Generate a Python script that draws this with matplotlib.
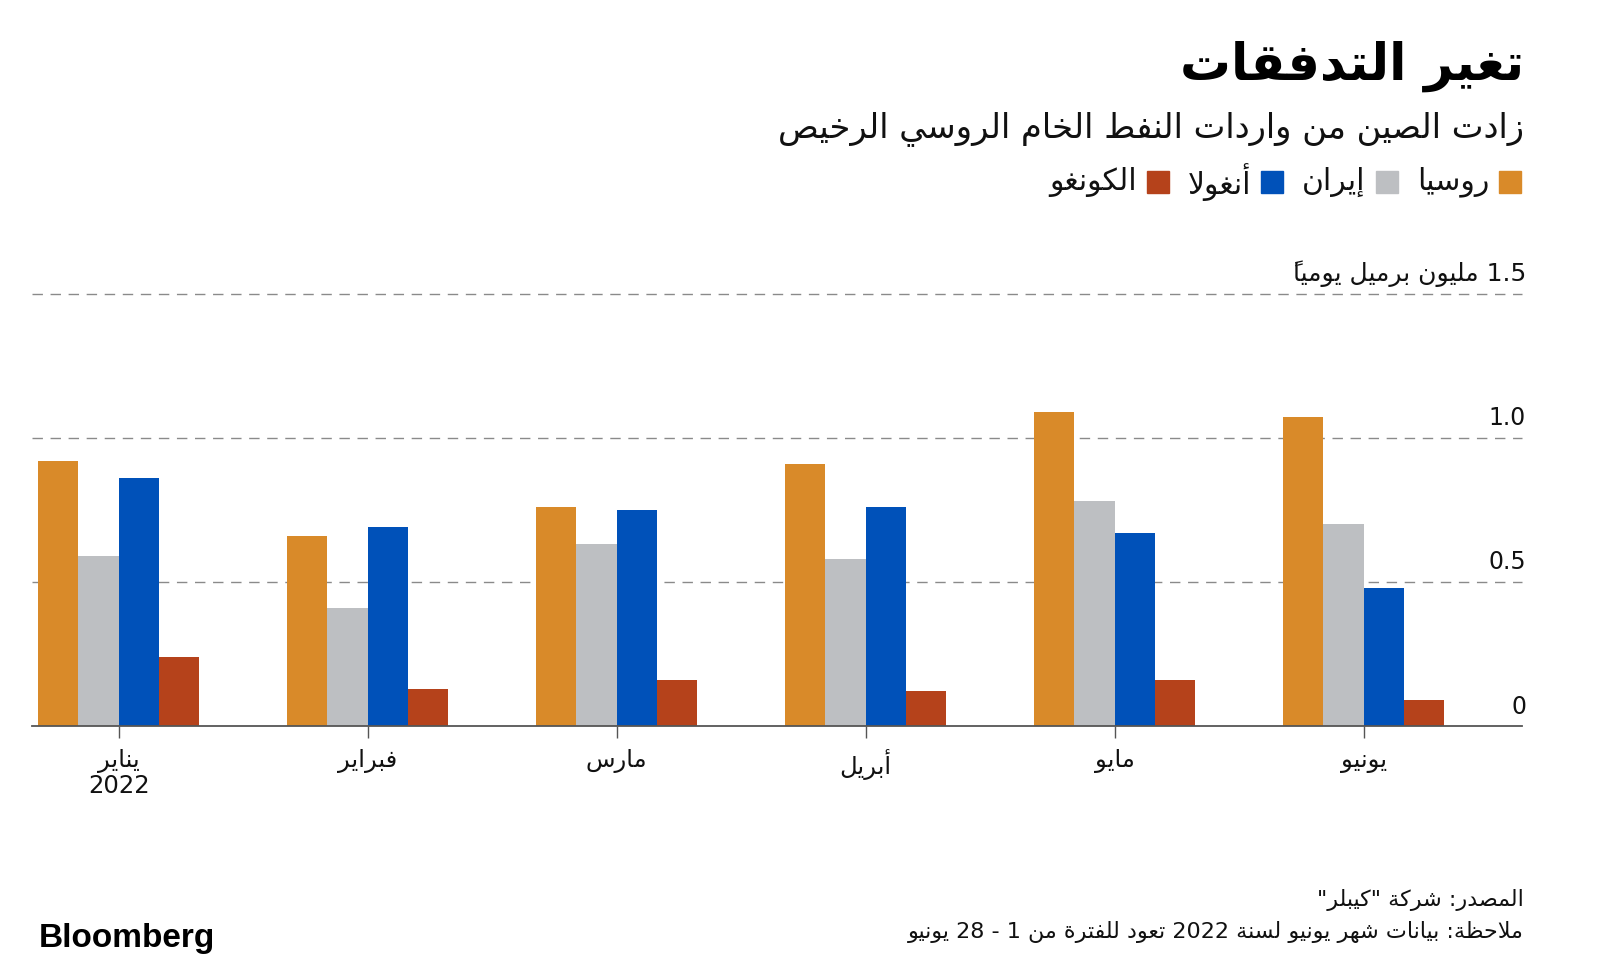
import matplotlib
matplotlib.use("Agg")
import matplotlib.pyplot as plt
from matplotlib.patches import Rectangle
import numpy as np

# China crude imports, million barrels per day (Jan-Jun 2022)
months = ["يناير\n2022", "فبراير", "مارس", "أبريل", "مايو", "يونيو"]
series_names = ["روسيا", "إيران", "أنغولا", "الكونغو"]
russia = [0.92, 0.66, 0.76, 0.91, 1.09, 1.07]
iran = [0.59, 0.41, 0.63, 0.58, 0.78, 0.70]
angola = [0.86, 0.69, 0.75, 0.76, 0.67, 0.48]
congo = [0.24, 0.13, 0.16, 0.12, 0.16, 0.09]
yticks = [0, 0.5, 1.0, 1.5]

title = "تغير التدفقات"
subtitle = "زادت الصين من واردات النفط الخام الروسي الرخيص"
unit = "1.5 مليون برميل يومياً"
source = 'المصدر: شركة "كيبلر"'
note = "ملاحظة: بيانات شهر يونيو لسنة 2022 تعود للفترة من 1 - 28 يونيو"

colors = ["#d98a29", "#bdbfc2", "#0051b9", "#b5421b"]

# --- minimal arabic shaping (matplotlib has no bidi/shaping) ---
FORMS = {
  'ء': (0xFE80, 1), 'آ': (0xFE81, 2), 'أ': (0xFE83, 2), 'ؤ': (0xFE85, 2),
  'إ': (0xFE87, 2), 'ئ': (0xFE89, 4), 'ا': (0xFE8D, 2), 'ب': (0xFE8F, 4),
  'ة': (0xFE93, 2), 'ت': (0xFE95, 4), 'ث': (0xFE99, 4), 'ج': (0xFE9D, 4),
  'ح': (0xFEA1, 4), 'خ': (0xFEA5, 4), 'د': (0xFEA9, 2), 'ذ': (0xFEAB, 2),
  'ر': (0xFEAD, 2), 'ز': (0xFEAF, 2), 'س': (0xFEB1, 4), 'ش': (0xFEB5, 4),
  'ص': (0xFEB9, 4), 'ض': (0xFEBD, 4), 'ط': (0xFEC1, 4), 'ظ': (0xFEC5, 4),
  'ع': (0xFEC9, 4), 'غ': (0xFECD, 4), 'ف': (0xFED1, 4), 'ق': (0xFED5, 4),
  'ك': (0xFED9, 4), 'ل': (0xFEDD, 4), 'م': (0xFEE1, 4), 'ن': (0xFEE5, 4),
  'ه': (0xFEE9, 4), 'و': (0xFEED, 2), 'ى': (0xFEEF, 2), 'ي': (0xFEF1, 4),
}
LAM_ALEF = {'آ': 0xFEF5, 'أ': 0xFEF7, 'إ': 0xFEF9, 'ا': 0xFEFB}
HARAKAT = set(chr(c) for c in range(0x064B, 0x0653))


def shape_word(word):
  toks = []
  i = 0
  while i < len(word):
    ch = word[i]
    if ch in HARAKAT and toks:
      toks[-1][2] += ch
    elif ch == 'ل' and i + 1 < len(word) and word[i + 1] in LAM_ALEF:
      toks.append([LAM_ALEF[word[i + 1]], 2, ''])
      i += 1
    elif ch in FORMS:
      base, n = FORMS[ch]
      toks.append([base, n, ''])
    else:
      toks.append([ch, 0, ''])
    i += 1
  out = []
  for k, (base, n, marks) in enumerate(toks):
    if n == 0:
      out.append(marks + base)
      continue
    prev_ok = k > 0 and toks[k - 1][1] == 4
    next_ok = n == 4 and k + 1 < len(toks) and toks[k + 1][1] >= 2
    if n == 1:
      form = 0
    elif prev_ok and next_ok:
      form = 3
    elif prev_ok:
      form = 1
    elif next_ok:
      form = 2
    else:
      form = 0
    # mark goes first so it lands on its own letter once reversed
    out.append(marks + chr(base + form))
  return ''.join(reversed(out))


def ar(text):
  lines = []
  for line in text.split("\n"):
    words = []
    for w in line.split(" "):
      if any('\u0600' <= c <= '\u06FF' for c in w):
        words.append(shape_word(w))
      else:
        words.append(w)
    lines.append(" ".join(reversed(words)))
  return "\n".join(lines)


W, H = 1600, 968
plt.rcParams['font.family'] = ['DejaVu Sans']
fig = plt.figure(figsize=(W / 100, H / 100), dpi=100)
fig.patch.set_facecolor("white")


def fx(x):
  return x / W


def fy(y):
  return 1 - y / H


# axes: baseline at y=726px, 1.5 line at y=293.5px
ax = fig.add_axes([fx(31.7), fy(726), fx(1522 - 31.7), (726 - 293.5) / H])
ax.set_xlim(-0.349, 5.636)
ax.set_ylim(0, 1.5)

x = np.arange(len(months))
bw = 0.162
for i, vals in enumerate([russia, iran, angola, congo]):
  ax.bar(x + (i - 1.5) * bw, vals, width=bw, color=colors[i], zorder=2)

for v in yticks[1:]:
  ax.axhline(v, color="#8a8a8a", lw=1, dashes=(7.5, 5.5), zorder=1, clip_on=False)

for s in ["top", "left", "right"]:
  ax.spines[s].set_visible(False)
ax.spines["bottom"].set_color("#555555")
ax.spines["bottom"].set_linewidth(1.3)
ax.spines["bottom"].set_zorder(3)

ax.set_yticks([])
ax.set_xticks(x)
ax.set_xticklabels([ar(m) for m in months], fontsize=17.5, color="#111111", linespacing=1.05)
ax.tick_params(axis="x", length=8.5, width=1, color="#555555", pad=8)

for v in yticks:
  if v == 0:
    lab = "0"
  elif v == 1.5:
    lab = ar(unit)
  else:
    lab = f"{v:.1f}"
  ax.annotate(lab, xy=(1, v), xycoords=("axes fraction", "data"),
              xytext=(3, 9), textcoords="offset points",
              ha="right", va="baseline", fontsize=18 if v == 1.5 else 17,
              color="#111111")

# titles
fig.text(fx(1524), fy(80), ar(title), ha="right", va="baseline",
         fontsize=36.5, fontweight="bold", color="#000000")
fig.text(fx(1524), fy(137), ar(subtitle), ha="right", va="baseline",
         fontsize=24.3, color="#111111")

# legend, laid out right to left
renderer = fig.canvas.get_renderer()
xr = 1521
sq = 22
yc = 182
for name, c in zip(series_names, colors):
  fig.patches.append(Rectangle((fx(xr - sq), fy(yc + sq / 2)), fx(sq), sq / H,
                               transform=fig.transFigure, color=c, figure=fig))
  t = fig.text(fx(xr - sq - 10), fy(yc), ar(name), ha="right", va="center",
               fontsize=21.5, color="#111111")
  bb = t.get_window_extent(renderer)
  xr = bb.x0 - 19

# footer
fig.text(fx(1524), fy(906), ar(source), ha="right", va="baseline",
         fontsize=16, color="#111111")
fig.text(fx(1524), fy(938), ar(note), ha="right", va="baseline",
         fontsize=16, color="#111111")
fig.text(fx(39), fy(947), "Bloomberg", ha="left", va="baseline",
         fontsize=24, fontweight="bold", family="Liberation Sans", color="#000000")

fig.savefig("out.png", dpi=100, facecolor="white")
